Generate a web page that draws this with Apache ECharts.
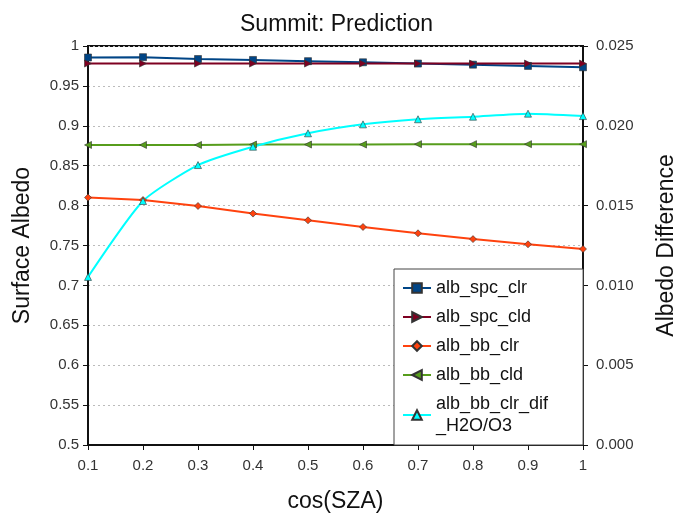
<!DOCTYPE html>
<html>
<head>
<meta charset="utf-8">
<script src="https://cdn.jsdelivr.net/npm/echarts@6/dist/echarts.min.js"></script>
<style>
  html, body { margin: 0; padding: 0; background: #fff; }
  #chart { width: 673px; height: 516px; }
</style>
</head>
<body>
<div id="chart"></div>
<script>
// cos(SZA) categories
var cosSza = ['0.1', '0.2', '0.3', '0.4', '0.5', '0.6', '0.7', '0.8', '0.9', '1'];

// left axis: surface albedo
var albSpcClr = [0.9856, 0.986, 0.9837, 0.9825, 0.981, 0.9796, 0.978, 0.9766, 0.975, 0.9733];
var albSpcCld = [0.978, 0.978, 0.978, 0.978, 0.978, 0.978, 0.978, 0.978, 0.978, 0.978];
var albBbClr = [0.810, 0.807, 0.7995, 0.790, 0.7816, 0.7732, 0.7653, 0.758, 0.7515, 0.7456];
var albBbCld = [0.876, 0.876, 0.876, 0.8765, 0.8765, 0.8765, 0.877, 0.877, 0.877, 0.877];

// right axis: albedo difference
var albBbClrDif = [0.01053, 0.01529, 0.01754, 0.01869, 0.01953, 0.02009, 0.02041, 0.02057, 0.02076, 0.02061];

var font = 'Liberation Sans';
var chart = echarts.init(document.getElementById('chart'), null, { renderer: 'canvas' });

function line(name, data, color, symbol, rotate, yIdx, smooth) {
    return {
        name: name,
        type: 'line',
        yAxisIndex: yIdx,
        data: data,
        smooth: smooth,
        symbol: symbol,
        symbolRotate: rotate,
        symbolSize: 7,
        showAllSymbol: true,
        lineStyle: { color: color, width: 2 },
        itemStyle: { color: color, borderColor: '#333', borderWidth: 0.6 },
        z: 3
    };
}

chart.setOption({
    animation: false,
    backgroundColor: '#fff',
    title: {
        text: 'Summit: Prediction',
        left: 'center',
        top: 8,
        textStyle: { fontFamily: font, fontSize: 23, fontWeight: 'normal', color: '#111' }
    },
    legend: {
        orient: 'vertical',
        left: 394,
        top: 269,
        padding: [8, 35, 8, 8],
        itemGap: 7,
        itemWidth: 28,
        itemHeight: 12,
        borderColor: '#444',
        borderWidth: 1,
        backgroundColor: '#fff',
        textStyle: { fontFamily: font, fontSize: 18, color: '#111', lineHeight: 22 },
        formatter: function (n) {
            return n === 'alb_bb_clr_dif' ? 'alb_bb_clr_dif\n_H2O/O3' : n;
        },
        data: ['alb_spc_clr', 'alb_spc_cld', 'alb_bb_clr', 'alb_bb_cld', 'alb_bb_clr_dif']
    },
    grid: {
        left: 88, right: 90, top: 46, bottom: 71,
        outerBoundsMode: 'none',
        show: true, borderColor: '#111', borderWidth: 2
    },
    xAxis: {
        type: 'category',
        data: cosSza,
        boundaryGap: false,
        name: 'cos(SZA)',
        nameLocation: 'middle',
        nameGap: 45,
        nameTextStyle: { fontFamily: font, fontSize: 23, color: '#111' },
        axisLine: { lineStyle: { color: '#111', width: 2 } },
        axisTick: { alignWithLabel: true, length: 5, lineStyle: { color: '#111' } },
        axisLabel: { fontFamily: font, fontSize: 15, color: '#333', margin: 13 },
        splitLine: { show: false }
    },
    yAxis: [{
        type: 'value',
        min: 0.5, max: 1, interval: 0.05,
        name: 'Surface Albedo',
        nameLocation: 'middle',
        nameGap: 54,
        nameTextStyle: { fontFamily: font, fontSize: 23, color: '#111' },
        axisLine: { show: true, lineStyle: { color: '#111', width: 2 } },
        axisTick: { show: true, length: 5, lineStyle: { color: '#111' } },
        axisLabel: { fontFamily: font, fontSize: 15, color: '#333', margin: 9 },
        splitLine: { lineStyle: { color: '#bbb', type: [2, 3], width: 1 } }
    }, {
        type: 'value',
        min: 0, max: 0.025, interval: 0.005,
        name: 'Albedo Difference',
        nameLocation: 'middle',
        nameGap: 72,
        nameRotate: 90,
        nameTextStyle: { fontFamily: font, fontSize: 23, color: '#111' },
        position: 'right',
        axisLine: { show: true, lineStyle: { color: '#111', width: 2 } },
        axisTick: { show: true, length: 5, lineStyle: { color: '#111' } },
        axisLabel: {
            fontFamily: font, fontSize: 15, color: '#333', margin: 13,
            formatter: function (v) { return v.toFixed(3); }
        },
        splitLine: { show: false }
    }],
    series: [
        line('alb_spc_clr', albSpcClr, '#004586', 'rect', 0, 0, false),
        line('alb_spc_cld', albSpcCld, '#7e0021', 'triangle', -90, 0, false),
        line('alb_bb_clr', albBbClr, '#ff420e', 'diamond', 0, 0, false),
        line('alb_bb_cld', albBbCld, '#579d1c', 'triangle', 90, 0, false),
        line('alb_bb_clr_dif', albBbClrDif, '#00ffff', 'triangle', 0, 1, 0.2)
    ]
});
</script>
</body>
</html>
